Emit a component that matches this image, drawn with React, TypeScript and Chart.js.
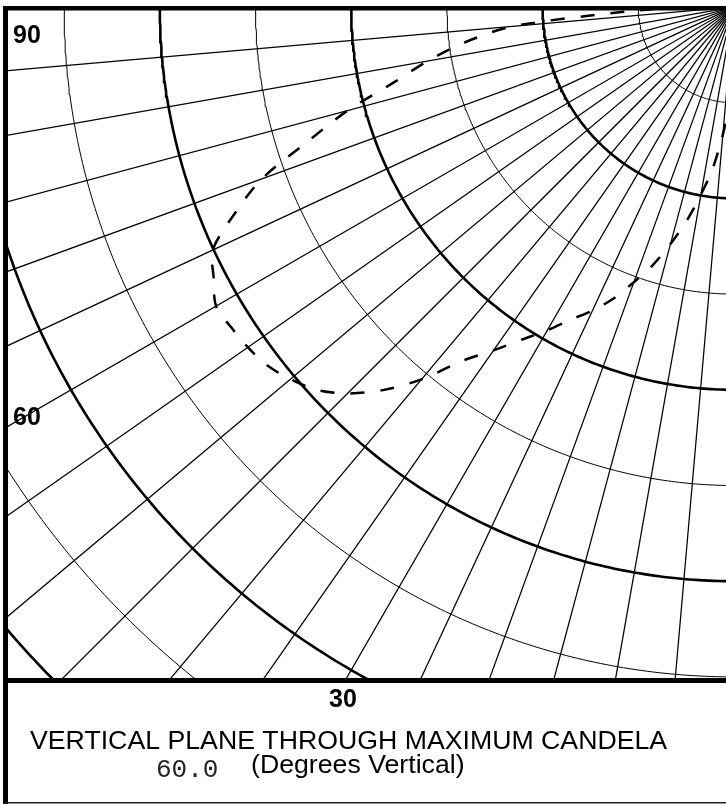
import React, { useEffect, useRef } from "react";
import { Chart, registerables } from "chart.js";

Chart.register(...registerables);

// Vertical angles (degrees from nadir) and candela in the plane through max candela
const ANGLES = [
  0, 2.5, 5, 7.5, 10, 12.5, 15, 17.5, 20, 22.5, 25, 27.5, 30, 32.5, 35, 37.5,
  40, 42.5, 45, 47.5, 50, 52.5, 55, 57.5, 60, 62.5, 65, 67.5, 70, 72.5, 75,
  77.5, 80, 82.5, 85, 87.5, 90,
];
const CANDELA = [
  920, 1020, 1340, 1700, 1990, 2290, 2560, 2830, 3060, 3300, 3500, 3680, 3900,
  4120, 4380, 4660, 5080, 5430, 5710, 5920, 6050, 6150, 6200, 6230, 6250, 6130,
  6010, 5650, 5250, 4670, 4180, 3640, 3250, 2840, 2320, 1150, 570,
];

// Grid
const RINGS = [1000, 2000, 3000, 4000, 5000, 6000, 7000, 8000, 9000, 10000];
const SPOKE_ANGLES = [0, 5, 10, 15, 20, 25, 30, 35, 40, 45, 50, 55, 60, 65, 70, 75, 80, 85, 90];
const ANGLE_TICK_LABELS = ["90", "60", "30", "0"];

const TITLE = "VERTICAL PLANE THROUGH MAXIMUM CANDELA";
const MAX_ANGLE_TEXT = "60.0";
const UNIT_TEXT = "(Degrees Vertical)";

// Geometry of the drawing (pixels)
const W = 726;
const H = 804;
const PX_PER_UNIT = 95.7 / 1000;
const CENTER_X_PX = 734;
const CENTER_Y_PX = 7;
const AREA = { left: 8, top: 7, right: 726, bottom: 680 };

const X_MIN = -(CENTER_X_PX - AREA.left) / PX_PER_UNIT;
const X_MAX = -(CENTER_X_PX - AREA.right) / PX_PER_UNIT;
const Y_MAX = (CENTER_Y_PX - AREA.top) / PX_PER_UNIT;
const Y_MIN = -(AREA.bottom - CENTER_Y_PX) / PX_PER_UNIT;

const rad = (d: number) => (d * Math.PI) / 180;
const toXY = (deg: number, r: number) => ({ x: -r * Math.sin(rad(deg)), y: -r * Math.cos(rad(deg)) });

const framePlugin = {
  id: "framePlugin",
  afterDraw(chart: any) {
    const ctx = chart.ctx as CanvasRenderingContext2D;
    ctx.save();
    ctx.fillStyle = "#000";
    // frame
    ctx.fillRect(3, 6, 5, H - 6);
    ctx.fillRect(3, 6, W - 3, 4.5);
    ctx.fillRect(3, 678, W - 3, 5);
    ctx.fillStyle = "#222";
    ctx.fillRect(3, 802, W - 3, 1.5);

    ctx.fillStyle = "#000";
    ctx.textBaseline = "alphabetic";
    ctx.font = "bold 25px 'Liberation Sans', Arial, sans-serif";
    ctx.textAlign = "left";
    ctx.fillText(ANGLE_TICK_LABELS[0], 13, 42.5);
    ctx.fillText(ANGLE_TICK_LABELS[1], 13, 425);
    ctx.textAlign = "center";
    ctx.fillText(ANGLE_TICK_LABELS[2], 343, 707);
    ctx.fillText(ANGLE_TICK_LABELS[3], 734, 707);

    ctx.textAlign = "left";
    ctx.font = "26.7px 'Liberation Sans', Arial, sans-serif";
    ctx.fillText(TITLE, 30, 749);
    ctx.fillText(UNIT_TEXT, 251, 773);
    ctx.fillStyle = "#222";
    ctx.font = "26px 'Liberation Mono', 'Courier New', monospace";
    ctx.fillText(MAX_ANGLE_TEXT, 156, 777);
    ctx.restore();
  },
};

export default function App() {
  const ref = useRef<HTMLCanvasElement | null>(null);

  useEffect(() => {
    if (!ref.current) return;

    const curve = {
      label: "candela",
      data: ANGLES.map((a, i) => toXY(a, CANDELA[i])),
      showLine: true,
      borderColor: "#000",
      borderWidth: 2.5,
      borderDash: [14, 16],
      pointRadius: 0,
      tension: 0.3,
      fill: false,
      clip: 0,
    };

    const rings = RINGS.map((r, k) => {
      const pts = [];
      for (let a = -3; a <= 93; a += 0.5) pts.push(toXY(a, r));
      return {
        label: "ring" + r,
        data: pts,
        showLine: true,
        borderColor: "#000",
        borderWidth: k % 2 === 1 ? 2.6 : 1,
        pointRadius: 0,
        tension: 0,
        fill: false,
        clip: 0,
      };
    });

    const spokes = SPOKE_ANGLES.map((a) => ({
      label: "spoke" + a,
      data: [toXY(a, 0), toXY(a, 11000)],
      showLine: true,
      borderColor: "#000",
      borderWidth: 1.25,
      pointRadius: 0,
      tension: 0,
      fill: false,
      clip: 0,
    }));

    const chart = new Chart(ref.current, {
      type: "scatter",
      data: { datasets: [curve, ...rings, ...spokes] as any },
      options: {
        responsive: false,
        animation: false,
        devicePixelRatio: 1,
        layout: {
          padding: { left: AREA.left, top: AREA.top, right: W - AREA.right, bottom: H - AREA.bottom },
        },
        scales: {
          x: { type: "linear", min: X_MIN, max: X_MAX, display: false },
          y: { type: "linear", min: Y_MIN, max: Y_MAX, display: false },
        },
        plugins: { legend: { display: false }, tooltip: { enabled: false } },
        events: [],
      },
      plugins: [framePlugin],
    });
    return () => chart.destroy();
  }, []);

  return (
    <div style={{ position: "absolute", left: 0, top: 0, width: W, height: H, background: "#fff" }}>
      <canvas ref={ref} width={W} height={H} style={{ display: "block", width: W, height: H }} />
    </div>
  );
}
